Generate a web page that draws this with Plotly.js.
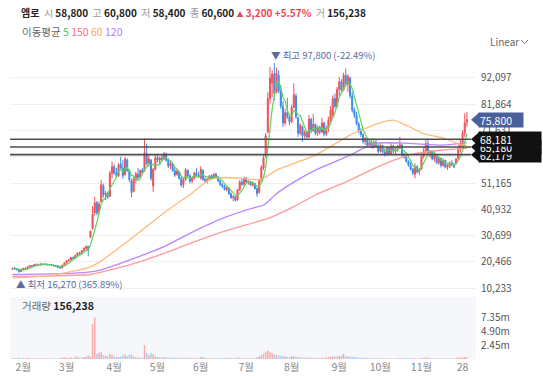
<!DOCTYPE html>
<html><head><meta charset="utf-8">
<script src="https://cdn.plot.ly/plotly-3.0.1.min.js"></script>
<style>html,body{margin:0;padding:0;background:#fff}#chart{width:543px;height:376px}</style>
</head><body><div id="chart"></div>
<script>
// ---- data (daily candles, Jan 25 .. Nov 30) ----
const openP = [
17600,18000,17700,17300,16800,17400,18000,17800,18600,19000,
18800,19400,19500,19400,19700,19500,19600,19300,19500,19100,
18900,18700,18400,18100,19200,20100,21000,21300,22200,21900,
23000,24000,23600,24900,25800,26500,30000,33500,39500,43500,
40000,44000,50000,46500,47200,46000,55000,57500,55000,54000,
58500,57000,54500,60000,56000,52000,48000,52500,54500,53500,
56000,56000,62500,58500,60000,50000,56500,61000,60000,61000,
60500,62500,60000,57800,58500,56000,54500,55500,53000,50500,
52500,56000,54000,52000,53000,55000,54000,53000,56000,52500,
52000,52600,54000,53000,54600,53500,52000,50500,49800,48600,
49200,47000,45500,45800,44500,48500,51500,50600,53000,51500,
51800,50400,51000,49000,47500,52000,57000,61500,71000,84000,
90000,93500,86500,93000,87000,81000,74500,78500,77000,75000,
80500,85000,76500,70500,73000,69500,71000,69000,76000,71500,
74000,70500,72800,71000,74500,70200,72500,75500,77500,84000,
81000,87500,90500,87500,93000,89500,92000,85000,79500,77500,
74200,71500,70000,67200,68300,65800,66800,65000,67000,65500,
63500,65800,63200,62300,64800,62500,65500,63500,64200,65500,
66000,62000,61200,59500,58000,56500,54500,57500,55500,56500,
61500,63500,66500,62800,63500,60500,62000,59000,60800,58000,
60000,57300,57500,59000,58200,58800,60600,64500,66500,70500,
74800];
const highP = [
18300,18600,18000,17500,17600,18200,18400,18800,19300,19200,
19600,19900,19800,20000,19900,19900,19800,19700,19600,19400,
19200,19000,18700,19400,20300,21200,21600,22400,22600,23300,
24200,24500,25100,26200,26900,26800,32500,42200,45800,44200,
44000,52300,51000,48000,47800,56000,59500,58500,57000,59000,
61400,60000,61300,60800,56500,52900,53500,55500,57000,56500,
57000,68500,66400,62000,60500,57000,62000,62600,61500,62000,
63200,63000,60800,59500,59000,57000,56500,55800,53500,53000,
57000,56500,54500,53500,55500,57000,55500,57700,56500,53500,
53000,54300,54500,55000,55200,54000,52500,51200,50500,49800,
49500,47500,46500,46200,49000,52300,53000,53600,53500,52300,
52000,51500,51200,49500,52500,58100,62000,70600,86600,96300,
95000,97800,96000,95000,89200,83000,80000,84200,78000,81500,
89900,86000,77000,74400,73500,71700,71500,77600,76500,78100,
74300,73500,73500,76400,75000,73500,76900,81000,85200,86000,
88500,92400,91500,94000,95700,93500,92500,86500,80500,78800,
75000,72500,70600,69000,68500,67500,68500,67800,67900,66500,
66600,66000,64500,65300,65000,66600,66000,65000,66000,69100,
66200,63000,62800,60000,60100,57000,58800,58100,57000,62700,
65000,67800,68100,64000,63800,63300,62500,61500,61000,60700,
60100,58500,59500,60000,59000,60800,66000,67900,71700,78200,
78800];
const lowP = [
17300,17500,17200,16270,16600,17200,17600,17700,18400,18600,
18700,19100,19200,19300,19300,19400,19200,19100,19000,18700,
18500,18200,17900,18000,19000,19900,20600,21000,21600,21800,
22800,23300,23500,24600,25200,22600,29800,33000,38500,38600,
39000,43500,45500,44500,45000,45800,53000,54500,53000,53500,
56500,52900,54000,55500,51500,45700,47500,51000,52500,53000,
54500,55500,58000,57500,52000,47600,56000,59000,58500,59500,
60000,59500,57000,56500,55500,53500,54000,52500,49500,49200,
52000,53500,51000,51000,52500,53500,53200,52500,52000,51300,
51000,52200,52500,52800,53000,51500,50000,49200,48200,47800,
46500,45000,44000,43800,44200,48000,50000,50200,51000,50500,
50000,49700,48500,45800,47000,51500,56200,61000,70500,82000,
84500,83400,86000,86000,80000,73000,73500,76000,73700,74500,
80200,76000,69100,69800,67200,68500,68500,68800,70500,71000,
69800,69500,70000,70500,69300,69500,71000,75000,76500,80200,
80500,85000,86500,87000,88500,86600,84000,78500,76400,73500,
70500,69100,66500,66000,65200,65300,64500,64600,65000,62700,
63000,62700,61500,62000,62000,62200,62700,62500,63300,64500,
61500,60700,59000,57500,56000,54200,53000,54800,54200,56200,
60700,62500,62000,61000,60000,59400,58500,58200,57200,57500,
56800,56200,57000,57800,57000,58400,60200,63000,65300,69100,
73000];
const closeP = [
18000,17700,17400,16800,17400,18000,17800,18600,19000,18800,
19400,19500,19400,19700,19500,19600,19300,19500,19100,18900,
18700,18400,18200,19200,20100,21000,21300,22200,21900,23000,
24000,23600,24900,25800,26500,25000,32500,39000,43500,39500,
43000,50500,46500,47200,45800,55000,57500,55000,53800,58200,
57000,54000,60500,56000,52500,47500,52800,54800,53200,56000,
55200,63000,58800,60500,53000,56500,61000,60000,61000,60200,
62500,60000,57800,58800,56000,54200,55800,53000,50300,52500,
56200,54000,51800,53000,55000,54000,53800,56500,52500,52000,
52600,54000,53000,54600,53500,52000,50500,49800,48600,49200,
47000,45500,45800,44500,48500,51500,50600,53000,51500,51800,
50400,51000,49000,47000,52000,57200,61000,69500,84000,92000,
93500,86000,94000,87000,81000,74500,78500,77000,75000,80500,
85500,77000,70500,73500,69500,71000,69000,76000,71500,74000,
70500,72800,71000,74500,70200,72500,75500,79500,84000,81000,
87500,90500,87500,93000,89500,92500,85000,79500,77500,74200,
71500,70000,67200,68300,65800,66800,65000,67000,65500,63500,
65800,63200,62300,64800,62500,65500,63500,64200,65500,66000,
62000,61200,59500,58000,56500,55000,57500,55500,56500,61500,
63500,66500,62800,63500,60500,62000,59000,60800,58000,60000,
57300,58000,59000,58200,57400,60600,64500,66500,70500,74500,
75800];
const volume = [
180000,150000,120000,250000,140000,130000,110000,160000,170000,100000,
140000,120000,90000,110000,90000,80000,90000,85000,95000,100000,
110000,120000,130000,280000,300000,220000,180000,260000,150000,380000,
420000,200000,300000,350000,380000,650000,450000,6100000,7350000,900000,
1100000,1300000,700000,550000,480000,900000,750000,420000,380000,350000,
400000,600000,800000,550000,700000,850000,450000,300000,250000,280000,
220000,2450000,1050000,600000,1000000,850000,450000,380000,300000,250000,
320000,280000,260000,200000,240000,210000,180000,230000,250000,200000,
220000,180000,160000,150000,200000,170000,150000,350000,380000,180000,
150000,140000,130000,150000,120000,140000,160000,170000,180000,150000,
190000,200000,170000,180000,260000,230000,150000,170000,150000,120000,
140000,130000,180000,350000,420000,700000,900000,1300000,1500000,1200000,
1000000,800000,700000,600000,550000,500000,450000,400000,350000,500000,
480000,380000,350000,300000,250000,220000,280000,240000,220000,200000,
180000,170000,160000,200000,180000,300000,350000,400000,500000,420000,
450000,550000,600000,900000,500000,450000,420000,400000,380000,300000,
250000,220000,200000,180000,170000,160000,150000,140000,130000,150000,
140000,120000,110000,100000,110000,100000,90000,95000,100000,180000,
130000,120000,140000,150000,170000,160000,150000,110000,100000,180000,
200000,250000,230000,140000,120000,110000,100000,95000,90000,100000,
110000,105000,120000,100000,110000,156238,280000,250000,320000,380000,
260000];

// moving-average lines (index, value)
const ma60Idx = [0,15,27,36,40,54,70,83,91,98,106,113,116,122,126,140,156,169,176,190,199,208,210];
const ma60Val = [14300,15000,16700,18600,20300,29000,39500,47300,52500,53300,53000,52500,53000,56200,57500,62000,69800,74300,75600,70400,68600,65900,65800];
const ma120Idx = [0,22,35,40,54,70,82,97,113,116,122,130,140,156,163,169,183,199,210];
const ma120Val = [15600,15900,16500,17200,21200,26400,31600,37400,41900,42500,47000,51500,56200,62000,65000,66700,66600,65900,66900];
const ma150Idx = [0,20,36,40,54,70,84,97,113,118,122,130,140,156,169,183,199,210];
const ma150Val = [14900,15100,15600,16300,19300,23800,28300,32200,36100,37400,38800,42000,46500,52300,57500,62000,64000,64600];

const tickIdx = [5,25,47,67,87,108,129,151,170,189,208];
const tickText = ['2월','3월','4월','5월','6월','7월','8월','9월','10월','11월','28'];
const priceTicks = [10233,20466,30699,40932,51165,61398,71631,81864,92097];
const priceTickText = ['10,233','20,466','30,699','40,932','51,165','','71,631','81,864','92,097'];
const volTicks = [2450000,4900000,7350000];
const volTickText = ['2.45m','4.90m','7.35m'];
const levelLines = [62179, 65180, 68181];
const levelText = ['62,179','65,180','68,181'];
const lastPrice = 75800;
const highVal = 97800, highIdx = 121, lowVal = 16270, lowIdx = 3;

// ---- derived ----
const idx = closeP.map((_, i) => i);
const ma5 = closeP.map((_, i) => {
  const s = closeP.slice(Math.max(0, i - 4), i + 1);
  return s.reduce((a, b) => a + b, 0) / s.length;
});
const RED = '#f0525a', BLUE = '#3d8ce6';
const volColors = closeP.map((c, i) => c >= openP[i] ? '#f7aaaa' : '#a6cdf4');

// ---- geometry helpers (pixel -> paper) ----
const L = 10, R = 476, T = 50, B = 359;
const X = px => (px - L) / (R - L);
const Y = py => (B - py) / (B - T);
const yMin = 8406, yMax = 102867, pTop = 50, pBot = 293;
const pyOf = p => pBot - (p - yMin) / (yMax - yMin) * (pBot - pTop);
const FONT = "'Noto Sans CJK KR', 'Noto Sans', sans-serif";

const traces = [
  {type:'bar', x: idx, y: volume, xaxis:'x', yaxis:'y2', marker:{color: volColors}, width:0.7, hoverinfo:'skip'},
  {type:'candlestick', x: idx, open: openP, high: highP, low: lowP, close: closeP, xaxis:'x', yaxis:'y',
   increasing:{line:{color:RED, width:1}, fillcolor:RED},
   decreasing:{line:{color:BLUE, width:1}, fillcolor:BLUE}, whiskerwidth:0, hoverinfo:'skip'},
  {type:'scatter', mode:'lines', x: ma150Idx, y: ma150Val, line:{color:'#ff9a9a', width:1.3, shape:'spline', smoothing:0.6}, hoverinfo:'skip'},
  {type:'scatter', mode:'lines', x: ma120Idx, y: ma120Val, line:{color:'#b986ff', width:1.3, shape:'spline', smoothing:0.6}, hoverinfo:'skip'},
  {type:'scatter', mode:'lines', x: ma60Idx, y: ma60Val, line:{color:'#ffbb7a', width:1.3, shape:'spline', smoothing:0.6}, hoverinfo:'skip'},
  {type:'scatter', mode:'lines', x: idx, y: ma5, line:{color:'#5fd35f', width:1.2}, hoverinfo:'skip'}
];

const ann = [];
function txt(text, px, py, color, size) {
  ann.push({xref:'paper', yref:'paper', x:X(px), y:Y(py), xanchor:'left', yanchor:'middle', showarrow:false,
    text: text, font:{size:size, color:color, family:FONT}});
}
const g = s => '<span style="color:#9a9a9a;font-weight:normal">' + s + '</span>';
// header line
txt('<b>엠로</b>  ' + g('시') + ' <b>58,800</b>  ' + g('고') + ' <b>60,800</b>  ' + g('저') + ' <b>58,400</b>  ' +
    g('종') + ' <b>60,600</b> <span style="color:#f04452;font-size:7px">▲</span> <b><span style="color:#f04452">3,200 +5.57%</span></b>  ' +
    g('거') + ' <b>156,238</b>', 19, 13, '#222', 10);
// legend line
txt('이동평균 <span style="color:#4cc94c">5</span> <span style="color:#ff6b81">150</span> ' +
    '<span style="color:#ffa94d">60</span> <span style="color:#b07cff">120</span>', 19.5, 31.5, '#666', 10.5);
txt('Linear', 488, 41.5, '#666', 10);
txt('거래량 <b style="color:#222">156,238</b>', 19.5, 305, '#666', 10.5);

// high / low marks
ann.push({xref:'x', yref:'y', x:highIdx, y:highVal, xanchor:'left', yanchor:'bottom', xshift:-5, yshift:-1, showarrow:false,
  text:'▼ 최고 97,800 (-22.49%)', font:{size:9.5, color:'#5b6d9f', family:FONT}});
ann.push({xref:'x', yref:'y', x:lowIdx, y:lowVal, xanchor:'left', yanchor:'top', xshift:-5, yshift:-2, showarrow:false,
  text:'▲ 최저 16,270 (365.89%)', font:{size:9.5, color:'#5b6d9f', family:FONT}});

// price labels on the right axis
const shapes = [
  {type:'rect', xref:'paper', yref:'paper', x0:0, x1:1, y0:0, y1:Y(297), fillcolor:'#f6f7fb', line:{width:0}, layer:'below'}
];
levelLines.forEach(v => shapes.push({type:'line', xref:'paper', yref:'y', x0:0, x1:X(471), y0:v, y1:v, line:{color:'#4d4d4d', width:1.6}}));
function tip(p, color) {
  const yc = pyOf(p);
  shapes.push({type:'path', xref:'paper', yref:'paper', fillcolor:color, line:{width:0},
    path:`M ${X(471)},${Y(yc)} L ${X(479)},${Y(yc-7)} L ${X(479)},${Y(yc+7)} Z`});
}
function label(p, text, color, w) {
  ann.push({xref:'paper', yref:'paper', x:X(478), y:Y(pyOf(p)), xanchor:'left', yanchor:'middle', showarrow:false,
    text:text, align:'left', bgcolor:color, width:w, height:12, borderpad:1, font:{size:10.5, color:'#fff', family:FONT}});
}
tip(lastPrice, '#48609c');
levelLines.forEach(v => tip(v, '#111'));
label(lastPrice, '75,800', '#48609c', 42);
levelLines.forEach((v, i) => label(v, levelText[i], '#111', 60));
// chevron for "Linear"
shapes.push({type:'path', xref:'paper', yref:'paper', line:{color:'#777', width:1},
  path:`M ${X(521)},${Y(40)} L ${X(524.5)},${Y(43.5)} L ${X(528)},${Y(40)}`});

const layout = {
  width:543, height:376, margin:{l:L, r:543-R, t:T, b:376-B},
  paper_bgcolor:'#fff', plot_bgcolor:'rgba(0,0,0,0)', showlegend:false, hovermode:false,
  font:{family:FONT, color:'#555'},
  xaxis:{range:[-1.16, 214.2], anchor:'y2', tickvals:tickIdx, ticktext:tickText, showgrid:false, zeroline:false,
    showline:false, ticks:'', tickfont:{size:10.5, color:'#888'}, rangeslider:{visible:false}, fixedrange:true},
  yaxis:{domain:[Y(pBot), 1], range:[yMin, yMax], side:'right', tickvals:priceTicks, ticktext:priceTickText,
    showgrid:true, gridcolor:'#f0f0f0', zeroline:false, showline:false, ticks:'', ticklabelstandoff:4,
    tickfont:{size:10, color:'#555'}, fixedrange:true},
  yaxis2:{domain:[0, Y(297)], range:[0, 10930000], side:'right', tickvals:volTicks, ticktext:volTickText,
    showgrid:false, zeroline:false, showline:false, ticks:'', ticklabelstandoff:4,
    tickfont:{size:10, color:'#555'}, fixedrange:true},
  bargap:0.3,
  annotations: ann, shapes: shapes
};
Plotly.newPlot('chart', traces, layout, {staticPlot:true, displayModeBar:false});
</script>
</body></html>
